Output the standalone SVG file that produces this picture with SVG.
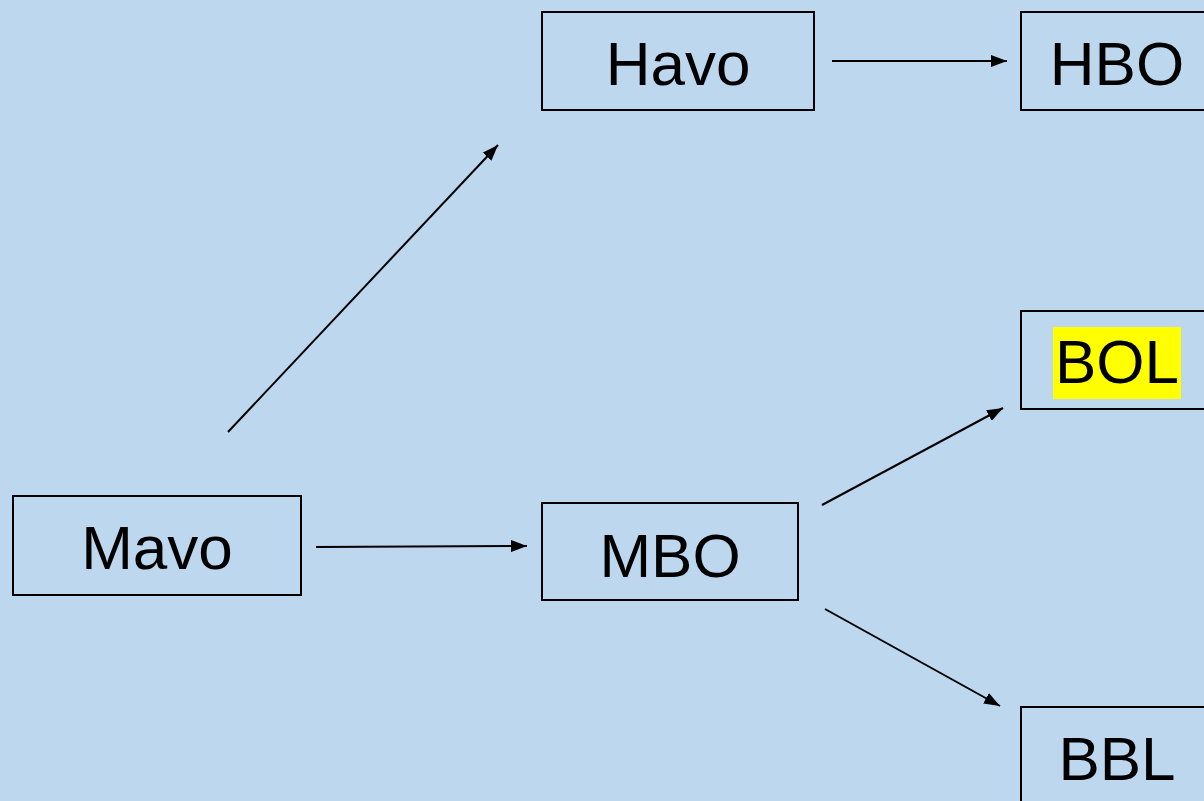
<svg xmlns="http://www.w3.org/2000/svg" width="1204" height="801" viewBox="0 0 1204 801">
<style>
.box{fill:none;stroke:#000;stroke-width:2}
.lbl{font-family:"Liberation Sans",Arial,sans-serif;font-size:62px;fill:#000;text-anchor:middle}
.conn{stroke:#000;stroke-width:2;fill:none;marker-end:url(#ah)}
</style>
<defs>
<marker id="ah" markerWidth="8" markerHeight="6" refX="8" refY="3" orient="auto" markerUnits="strokeWidth">
<path d="M0,0 L8,3 L0,6 Z" fill="#000"/>
</marker>
</defs>
<rect width="1204" height="801" fill="#BDD7EE"/>
<g id="havo"><rect class="box" x="542" y="12" width="272" height="98"/><text class="lbl" x="678" y="85">Havo</text></g>
<g id="hbo"><rect class="box" x="1021" y="12" width="194" height="98"/><text class="lbl" x="1117" y="85">HBO</text></g>
<g id="bol"><rect class="box" x="1021" y="311" width="194" height="98"/><rect x="1053" y="327" width="128" height="72" fill="#FFFF00"/><text class="lbl" x="1117" y="383">BOL</text></g>
<g id="bbl"><rect class="box" x="1021" y="707" width="194" height="98"/><text class="lbl" x="1117" y="780">BBL</text></g>
<g id="mavo"><rect class="box" x="13" y="496" width="288" height="99"/><text class="lbl" x="157" y="569">Mavo</text></g>
<g id="mbo"><rect class="box" x="542" y="503" width="256" height="97"/><text class="lbl" x="670" y="577">MBO</text></g>
<g id="connectors">
<line class="conn" x1="228" y1="432" x2="498" y2="145"/>
<line class="conn" x1="832" y1="61" x2="1007" y2="61"/>
<line class="conn" x1="316" y1="547" x2="527" y2="546"/>
<line class="conn" x1="822" y1="505" x2="1003" y2="408"/>
<line class="conn" x1="825" y1="609" x2="1000" y2="706"/>
</g>
</svg>
